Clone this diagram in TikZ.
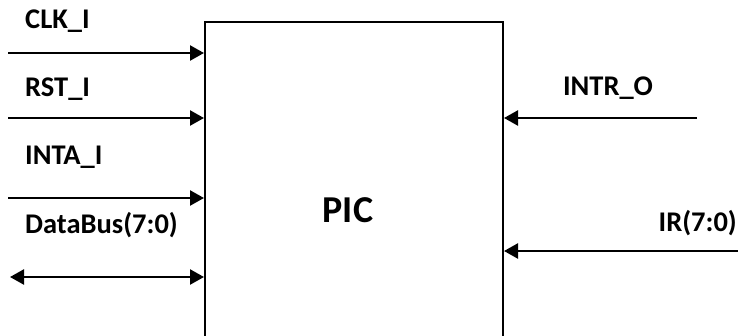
\documentclass[tikz,border=0pt]{standalone}
\usepackage{fontspec}
\setmainfont{Carlito}
\usetikzlibrary{arrows.meta}
\tikzset{
  lbl/.style={font=\bfseries\fontsize{28.5}{32}\selectfont, inner sep=0pt},
  arr/.style={line width=2.4pt, -{Triangle[length=14pt,width=15pt]}},
  darr/.style={line width=2.4pt, {Triangle[length=14pt,width=15pt]}-{Triangle[length=14pt,width=15pt]}},
  blk/.style={draw, line width=2pt, minimum width=298pt, minimum height=330pt, anchor=north west, inner sep=0pt}
}
\begin{document}
\begin{tikzpicture}[x=1pt,y=-1pt]
\useasboundingbox (0,0) rectangle (738,335);
\clip (0,0) rectangle (738,335);
\node[blk] (pic) at (204,21) {};
\node[font=\bfseries\fontsize{38}{44}\selectfont, inner sep=0pt] (pictxt) at (348,210) {PIC};
% left labels
\node[lbl, anchor=west] (lclk) at (25,21) {CLK\_I};
\node[lbl, anchor=west] (lrst) at (25,89) {RST\_I};
\node[lbl, anchor=west] (linta) at (25,157) {INTA\_I};
\node[lbl, anchor=west] (ldata) at (25,225) {DataBus(7:0)};
% right labels
\node[lbl] (lintr) at (608,88) {INTR\_O};
\node[lbl, anchor=east] (lir) at (737,223) {IR(7:0)};
% connector free ends
\coordinate (clk) at (8,53);
\coordinate (rst) at (8,118);
\coordinate (inta) at (8,198);
\coordinate (data) at (10,277);
\coordinate (intr) at (697,118);
\coordinate (ir) at (740,251);
\draw[arr] (clk) -- (clk -| pic.west);
\draw[arr] (rst) -- (rst -| pic.west);
\draw[arr] (inta) -- (inta -| pic.west);
\draw[darr] (data) -- (data -| pic.west);
\draw[arr] (intr) -- (intr -| pic.east);
\draw[arr] (ir) -- (ir -| pic.east);
\end{tikzpicture}
\end{document}
